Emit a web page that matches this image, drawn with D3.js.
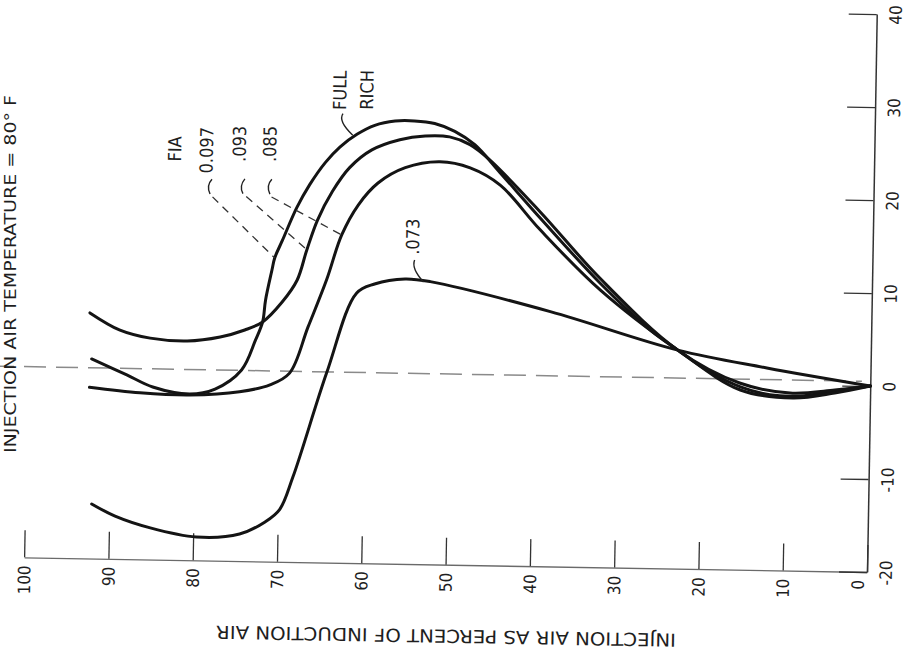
<!DOCTYPE html>
<html><head><meta charset="utf-8">
<script src="https://cdn.jsdelivr.net/npm/d3@7"></script>
<style>
body{margin:0;background:#fff;}
svg{display:block;}
text{font-family:"Liberation Sans Narrow","DejaVu Sans Condensed","Liberation Sans",sans-serif;fill:#1e1e1e;}
</style></head><body>
<svg id="chart" width="910" height="662"></svg>
<script>
// Axis ticks
const xTickValues = [100, 90, 80, 70, 60, 50, 40, 30, 20, 10, 0];
const yTickValues = [-20, -10, 0, 10, 20, 30, 40];

// Curves: [injection air %, value] for each fuel-air ratio (FIA)
const fia097 = [[92.4,1.45],[88.2,-0.2],[85.1,-1.45],[80.7,-2.13],[77.7,-1.55],[74.6,0.55],[73.0,3.8],[72.2,5.75],[71.9,8.1],[71.2,11.35],[70.9,12.65],[70.0,14.6],[68.4,18.07],[66.9,20.6],[65.1,23.0],[63.4,24.7],[61.4,26.1],[59.3,27.1],[56.9,27.6],[54.6,27.65],[52.2,27.4],[49.8,26.6],[47.4,25.2],[44.4,22.3],[39.5,17.45],[32.3,10.6],[26.2,5.6],[22.9,3.5],[19.0,1.2],[15.4,-0.34],[11.9,-1.13],[8.3,-1.2],[4.2,-0.6],[0,0]];
const fia093 = [[92.7,6.4],[89.1,4.6],[85.5,3.8],[81.1,3.56],[77.2,4.05],[74.3,4.85],[72.2,5.75],[69.95,7.9],[68.2,10.3],[67.1,13.6],[65.9,16.8],[64.2,19.9],[62.2,22.5],[59.6,24.45],[56.3,25.6],[53.3,26.05],[50.4,26.0],[47.97,25.2],[45.6,23.6],[39.5,18.1],[32.3,11.1],[22.9,3.5],[15.5,0.08],[9.5,-0.9],[4.2,-0.5],[0,0]];
const fia085 = [[92.6,-1.6],[86.6,-2.1],[80.7,-2.24],[74.8,-1.8],[71.2,-1.0],[68.9,0.3],[66.8,5.3],[64.7,10.4],[63.0,15.25],[61.1,18.5],[58.8,20.9],[55.6,22.6],[51.5,23.3],[47.9,22.7],[44.3,20.9],[39.5,16.2],[32.2,9.8],[22.9,3.5],[15.4,-0.67],[9.14,-1.43],[4.2,-0.81],[0,0]];
const fia073 = [[92.1,-14.14],[89.3,-15.4],[85.1,-16.6],[79.6,-17.5],[74.5,-17.1],[71.5,-15.75],[69.8,-14.4],[68.3,-10.9],[64.5,0.4],[61.1,9.04],[59.0,10.04],[55.4,10.64],[52.4,10.4],[38.1,7.4],[22.9,3.5],[12.3,1.75],[0,0]];

// Dashed reference line
const refLine = [[108, 0.5], [1, 0.5]];

// Curve labels: [text, x value, y value]
const curveLabels = [["FIA", 82.96, 24.2], ["0.097", 79.2, 24.1], [".093", 75.3, 24.85], [".085", 71.7, 24.9], ["FULL", 63.5, 30.8], ["RICH", 60.3, 30.9], [".073", 54.55, 15.2]];
// Leader hooks (start, control, end) and dashed leaders (start, end)
const hooks = [
  [[78.5,21.0],[79.2,20.3],[78.7,19.4]],
  [[74.6,21.1],[75.3,20.3],[74.8,19.5]],
  [[71.4,21.1],[72.1,20.4],[71.6,19.5]],
  [[63.1,28.3],[63.7,27.5],[61.9,26.0]],
  [[54.3,12.7],[54.7,11.8],[53.2,10.35]]
];
const dashLeaders = [
  [[78.4,19.1],[70.9,12.65]],
  [[74.4,19.2],[67.1,13.6]],
  [[71.4,19.2],[63.0,15.25]]
];

const svg = d3.select("#chart");
svg.append("rect").attr("width", 910).attr("height", 662).attr("fill", "#fff");

const x = d3.scaleLinear().domain([100, 0]).range([24, 867]);
const y = d3.scaleLinear().domain([-20, 40]).range([572, 14]);

const plot = svg.append("g").attr("transform", "rotate(1,867,572)");

// Reference line
plot.append("path")
  .attr("d", d3.line().x(d => x(d[0])).y(d => y(d[1]))(refLine))
  .attr("fill", "none").attr("stroke", "#8a8a8a").attr("stroke-width", 1.5)
  .attr("stroke-dasharray", "22,10");

const tickFont = "'Liberation Sans Narrow','DejaVu Sans Condensed',sans-serif";

// Bottom axis
const xAxis = d3.axisBottom(x).tickValues(xTickValues).tickSizeInner(-27).tickSizeOuter(0).tickFormat(d => String(d));
const gx = plot.append("g").attr("transform", `translate(0,${y(-20)})`).call(xAxis);
gx.select(".domain").attr("stroke", "#6a6a6a").attr("stroke-width", 1.3);
gx.selectAll(".tick line").attr("stroke", "#333").attr("stroke-width", 1.3);
gx.selectAll(".tick text")
  .attr("transform", "rotate(-90)")
  .attr("x", -8).attr("y", 0)
  .attr("dy", d => d === 0 ? "-0.2em" : "0.35em")
  .attr("text-anchor", "end")
  .style("font-size", "17px")
  .style("font-family", tickFont);

// Right axis
const yAxis = d3.axisRight(y).tickValues(yTickValues).tickSizeInner(-28).tickSizeOuter(0).tickFormat(d => String(d));
const gy = plot.append("g").attr("transform", `translate(${x(0)},0)`).call(yAxis);
gy.select(".domain").attr("stroke", "#333").attr("stroke-width", 1.5);
gy.selectAll(".tick line").attr("stroke", "#333").attr("stroke-width", 1.3);
gy.selectAll(".tick text")
  .attr("transform", "rotate(-90)")
  .attr("x", 0).attr("y", 25).attr("dy", 0)
  .attr("text-anchor", "middle")
  .style("font-size", "17px")
  .style("font-family", tickFont);

// Curves
const line = d3.line().x(d => x(d[0])).y(d => y(d[1])).curve(d3.curveCatmullRom.alpha(0.5));
[fia097, fia093, fia085, fia073].forEach(s => {
  plot.append("path").attr("d", line(s))
    .attr("fill", "none").attr("stroke", "#141414").attr("stroke-width", 3)
    .attr("stroke-linecap", "round").attr("stroke-linejoin", "round");
});

// Leaders
hooks.forEach(h => {
  plot.append("path")
    .attr("d", `M${x(h[0][0])},${y(h[0][1])} Q${x(h[1][0])},${y(h[1][1])} ${x(h[2][0])},${y(h[2][1])}`)
    .attr("fill", "none").attr("stroke", "#222").attr("stroke-width", 1.4);
});
dashLeaders.forEach(l => {
  plot.append("path").attr("d", d3.line().x(d => x(d[0])).y(d => y(d[1]))(l))
    .attr("fill", "none").attr("stroke", "#333").attr("stroke-width", 1.3)
    .attr("stroke-dasharray", "8,6");
});

// Curve labels
plot.selectAll("text.curve-label").data(curveLabels).join("text")
  .attr("class", "curve-label")
  .attr("transform", d => `translate(${x(d[1])},${y(d[2])}) rotate(-90)`)
  .attr("text-anchor", "middle").attr("dy", "0.35em")
  .style("font-size", "18px")
  .text(d => d[0]);

// Axis titles
svg.append("text")
  .attr("transform", "translate(446,636) rotate(181)")
  .attr("text-anchor", "middle").attr("dy", "0.35em")
  .attr("textLength", 460).attr("lengthAdjust", "spacingAndGlyphs")
  .style("font-size", "18px")
  .text("INJECTION AIR AS PERCENT OF INDUCTION AIR");

svg.append("text")
  .attr("transform", "translate(16,274) rotate(-90)")
  .attr("text-anchor", "middle")
  .attr("textLength", 358).attr("lengthAdjust", "spacingAndGlyphs")
  .style("font-size", "16px")
  .text("INJECTION AIR TEMPERATURE = 80° F");
</script>
</body></html>
